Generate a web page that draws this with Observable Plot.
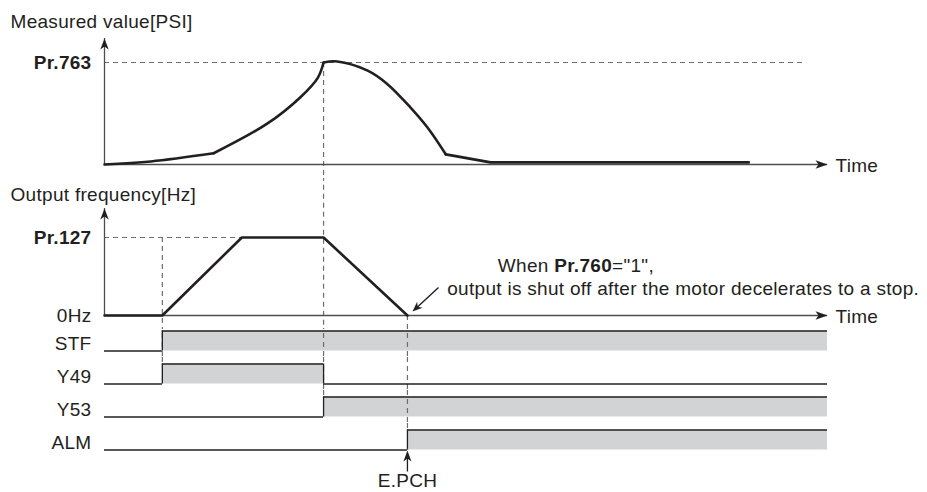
<!DOCTYPE html>
<html>
<head>
<meta charset="utf-8">
<script src="https://cdn.jsdelivr.net/npm/d3@7"></script>
<script src="https://cdn.jsdelivr.net/npm/@observablehq/plot@0.6"></script>
<style>
  body { margin: 0; background: #fff; }
  #chart { width: 927px; height: 492px; overflow: hidden; }
  #chart svg { display: block; }
</style>
</head>
<body>
<div id="chart"></div>
<script>
// ---------- data (time in arbitrary units, 0..10) ----------
const tEnd = 10;
const tRun = 0.80;       // STF on, acceleration starts
const tAccelEnd = 1.90;  // reaches Pr.127
const tTrip = 3.03;      // measured value reaches Pr.763
const tStop = 4.19;      // motor stopped -> E.PCH
const prRefEnd = 9.70;   // end of dashed Pr.763 reference

// measured value, as a fraction of Pr.763
const riseT  = [0, 0.64, 1.51];
const riseV  = [0, 0.03, 0.11];
const climbT = [1.51, 2.25, 2.71, 2.95, 3.03];
const climbV = [0.11, 0.40, 0.66, 0.85, 1.0];
const fallT  = [3.03, 3.22, 3.64, 3.91, 4.23, 4.47, 4.72];
const fallV  = [1.0, 1.01, 0.92, 0.79, 0.56, 0.36, 0.10];
const tailT  = [4.72, 5.34, 8.91];
const tailV  = [0.10, 0.02, 0.02];

// output frequency, as a fraction of Pr.127
const freqT = [0, tRun, tAccelEnd, tTrip, tStop];
const freqV = [0, 0, 1, 1, 0];

// signals: change times and states
const signalNames  = ["STF", "Y49", "Y53", "ALM"];
const signalTimes  = [[0, tRun], [0, tRun, tTrip], [0, tTrip], [0, tStop]];
const signalStates = [[0, 1], [0, 1, 0], [0, 1], [0, 1]];
const dashUntil    = [{t: tRun, until: "Y49"}, {t: tTrip, until: "Y53"}, {t: tStop, until: "ALM"}];

const titleA = "Measured value[PSI]";
const titleB = "Output frequency[Hz]";
const tickA = "Pr.763";
const tickB1 = "Pr.127";
const tickB0 = "0Hz";
const annoLine1 = 'When Pr.760="1",';
const annoLine2 = "output is shut off after the motor decelerates to a stop.";
const annoFrom = [4.62, 0.36];
const annoTo = [4.26, 0.05];

// ---------- styling / layout ----------
const W = 927;
const xLeft = 104, xRight = 827;
const ink = "#231f20", axisInk = "#4d4d4f", dashInk = "#6d6e71", gray = "#d1d3d4";
const font = {fontFamily: "'Liberation Sans', Arial, Helvetica, sans-serif", fontSize: "19px", letterSpacing: "0.3px", color: ink, background: "#fff"};
const dash = {stroke: dashInk, strokeWidth: 1.2, strokeDasharray: "5,4"};
const xScale = {domain: [0, tEnd], range: [xLeft, xRight], axis: null};

function arrowSym(angleDeg, shaft = 0, len = 11, half = 4, notch = 3, sw = 1.3) {
  const a = angleDeg * Math.PI / 180, c = Math.cos(a), s = Math.sin(a);
  const rot = ([px, py]) => [px * c - py * s, px * s + py * c];
  const polys = [[[0, 0], [-len, -half], [-len + notch, 0], [-len, half]]];
  if (shaft > 0) polys.push([[-len + notch + 1, -sw / 2], [-shaft, -sw / 2], [-shaft, sw / 2], [-len + notch + 1, sw / 2]]);
  return {draw(ctx) {
    for (const poly of polys) {
      const p = poly.map(rot);
      ctx.moveTo(p[0][0], p[0][1]);
      for (let i = 1; i < p.length; i++) ctx.lineTo(p[i][0], p[i][1]);
      ctx.closePath();
    }
  }};
}
const headRight = arrowSym(0, 0, 12, 4.2, 3), headUp = arrowSym(-90, 0, 11, 4.2, 3);
const pts = (T, V) => T.map((t, i) => ({t, v: V[i]}));

// ---------- panel A: measured value ----------
const A_H = 178, A_base = 164, A_ref = 62;
const yTipA = (A_base - 38) / (A_base - A_ref);
const plotA = Plot.plot({
  width: W, height: A_H,
  marginLeft: xLeft, marginRight: W - xRight, marginTop: A_ref, marginBottom: A_H - A_base,
  style: font,
  x: xScale,
  y: {domain: [0, 1], range: [A_base, A_ref]},
  marks: [
    Plot.ruleY([1], {x1: 0, x2: prRefEnd, ...dash}),
    Plot.ruleX([tTrip], {y1: 1, y2: -0.2, ...dash}),
    Plot.ruleY([0], {x1: 0, x2: tEnd, stroke: axisInk, strokeWidth: 1.3}),
    Plot.ruleX([0], {y1: 0, y2: yTipA, stroke: axisInk, strokeWidth: 1.3}),
    Plot.dot([{t: tEnd, v: 0}], {x: "t", y: "v", symbol: headRight, fill: ink, stroke: "none"}),
    Plot.dot([{t: 0, v: yTipA}], {x: "t", y: "v", symbol: headUp, fill: ink, stroke: "none"}),
    Plot.line(pts(riseT, riseV), {x: "t", y: "v", curve: "catmull-rom", stroke: ink, strokeWidth: 2.6}),
    Plot.line(pts(climbT, climbV), {x: "t", y: "v", curve: "catmull-rom", stroke: ink, strokeWidth: 2.6}),
    Plot.line(pts(fallT, fallV), {x: "t", y: "v", curve: "catmull-rom", stroke: ink, strokeWidth: 2.6}),
    Plot.line(pts(tailT, tailV), {x: "t", y: "v", stroke: ink, strokeWidth: 2.8}),
    Plot.axisY([1], {tickFormat: () => tickA, tickSize: 0, tickPadding: 13, fontSize: 19, fontWeight: "bold", label: null}),
    Plot.text([titleA], {text: d => d, frameAnchor: "top-left", textAnchor: "start", lineAnchor: "bottom", dx: -94, dy: 27 - A_ref, fill: ink}),
    Plot.text([{t: tEnd, v: 0, s: "Time"}], {x: "t", y: "v", text: "s", textAnchor: "start", dx: 8, dy: 1.5, fill: ink})
  ]
});

// ---------- panel B: output frequency ----------
const B_top = 178, B_H = 150, B_base = 315 - B_top, B_ref = 237 - B_top;
const pxPerY_B = B_base - B_ref, pxPerX = (xRight - xLeft) / tEnd;
const yTipB = (315 - 208) / pxPerY_B;
const yBottomB = -(B_H - B_base) / pxPerY_B;
const annoAngle = Math.atan2(-(annoTo[1] - annoFrom[1]) * pxPerY_B, (annoTo[0] - annoFrom[0]) * pxPerX) * 180 / Math.PI;
const annoLen = Math.hypot((annoTo[1] - annoFrom[1]) * pxPerY_B, (annoTo[0] - annoFrom[0]) * pxPerX);
const plotB = Plot.plot({
  width: W, height: B_H,
  marginLeft: xLeft, marginRight: W - xRight, marginTop: B_ref, marginBottom: B_H - B_base,
  style: font,
  x: xScale,
  y: {domain: [0, 1], range: [B_base, B_ref]},
  marks: [
    Plot.ruleY([1], {x1: 0, x2: tAccelEnd, ...dash}),
    Plot.ruleX([tRun], {y1: 1, y2: yBottomB, ...dash}),
    Plot.ruleX([tTrip], {y1: 1.9, y2: yBottomB, ...dash}),
    Plot.ruleX([tStop], {y1: 0, y2: yBottomB, ...dash}),
    Plot.ruleY([0], {x1: 0, x2: tEnd, stroke: axisInk, strokeWidth: 1.3}),
    Plot.ruleX([0], {y1: 0, y2: yTipB, stroke: axisInk, strokeWidth: 1.3}),
    Plot.dot([{t: tEnd, v: 0}], {x: "t", y: "v", symbol: headRight, fill: ink, stroke: "none"}),
    Plot.dot([{t: 0, v: yTipB}], {x: "t", y: "v", symbol: headUp, fill: ink, stroke: "none"}),
    Plot.line(pts(freqT, freqV), {x: "t", y: "v", stroke: ink, strokeWidth: 2.6}),
    Plot.dot([{t: annoTo[0], v: annoTo[1]}], {x: "t", y: "v", symbol: arrowSym(annoAngle, annoLen, 10, 4, 3, 1.4), fill: ink, stroke: "none"}),
    Plot.axisY([1], {tickFormat: () => tickB1, tickSize: 0, tickPadding: 13, fontSize: 19, fontWeight: "bold", label: null}),
    Plot.axisY([0], {tickFormat: () => tickB0, tickSize: 0, tickPadding: 13, fontSize: 19, label: null}),
    Plot.text([titleB], {text: d => d, frameAnchor: "top-left", textAnchor: "start", lineAnchor: "bottom", dx: -94, dy: 22 - B_ref, fill: ink}),
    Plot.text([{t: tEnd, v: 0, s: "Time"}], {x: "t", y: "v", text: "s", textAnchor: "start", dx: 8, dy: 1.5, fill: ink}),
    Plot.text([{t: 5.44, v: 0.64, s: annoLine1}], {x: "t", y: "v", text: "s", textAnchor: "start", fill: ink}),
    Plot.text([{t: 4.74, v: 0.335, s: annoLine2}], {x: "t", y: "v", text: "s", textAnchor: "start", fill: ink})
  ]
});
// bold "Pr.760" inside the first annotation line
d3.select(plotB).selectAll("text").filter(function () { return this.textContent === annoLine1; }).each(function () {
  const el = d3.select(this);
  el.text(null);
  el.append("tspan").text("When ");
  el.append("tspan").attr("font-weight", "bold").text("Pr.760");
  el.append("tspan").text('="1",');
});

// ---------- panel C: signals ----------
const C_top = B_top + B_H, C_H = 492 - C_top, band = 33, inset = 6.5;
const bandStart = 324 - C_top;
const segs = [], edges = [], dashFull = [], dashPart = [];
signalNames.forEach((name, i) => {
  const T = signalTimes[i], S = signalStates[i];
  T.forEach((t, j) => {
    segs.push({name, t1: t, t2: j + 1 < T.length ? T[j + 1] : tEnd, on: S[j] === 1});
    if (j > 0) edges.push({name, t});
  });
});
dashUntil.forEach(({t, until}) => {
  const k = signalNames.indexOf(until);
  for (let i = 0; i < k; i++) dashFull.push({name: signalNames[i], t});
  dashPart.push({name: until, t});
});
const high = segs.filter(d => d.on), low = segs.filter(d => !d.on);
const bandEnd = bandStart + band * signalNames.length;
const plotC = Plot.plot({
  width: W, height: C_H,
  marginLeft: xLeft, marginRight: W - xRight, marginTop: 0, marginBottom: C_H - bandEnd,
  style: font,
  x: xScale,
  y: {type: "band", domain: signalNames, range: [bandStart, bandEnd], padding: 0},
  marks: [
    Plot.barX(high, {x1: "t1", x2: "t2", y: "name", fill: gray, insetTop: inset, insetBottom: inset}),
    Plot.tickX(dashFull, {x: "t", y: "name", ...dash}),
    Plot.tickX(dashPart, {x: "t", y: "name", insetBottom: band - inset, ...dash}),
    Plot.ruleY(high, {x1: "t1", x2: "t2", y: "name", dy: -(band / 2 - inset), stroke: ink, strokeWidth: 1.3}),
    Plot.ruleY(low, {x1: "t1", x2: "t2", y: "name", dy: band / 2 - inset, stroke: ink, strokeWidth: 1.3}),
    Plot.tickX(edges, {x: "t", y: "name", insetTop: inset, insetBottom: inset, stroke: ink, strokeWidth: 1.3}),
    Plot.dot([{t: tStop, name: "ALM"}], {x: "t", y: "name", dy: band / 2 - inset + 0.5, symbol: arrowSym(-90, 21), fill: ink, stroke: "none"}),
    Plot.text([{t: tStop, name: "ALM", s: "E.PCH"}], {x: "t", y: "name", text: "s", dy: 41, fill: ink}),
    Plot.axisY({tickSize: 0, tickPadding: 13, fontSize: 19, dy: 2.5, label: null})
  ]
});

const chart = document.getElementById("chart");
chart.append(plotA, plotB, plotC);
</script>
</body>
</html>
